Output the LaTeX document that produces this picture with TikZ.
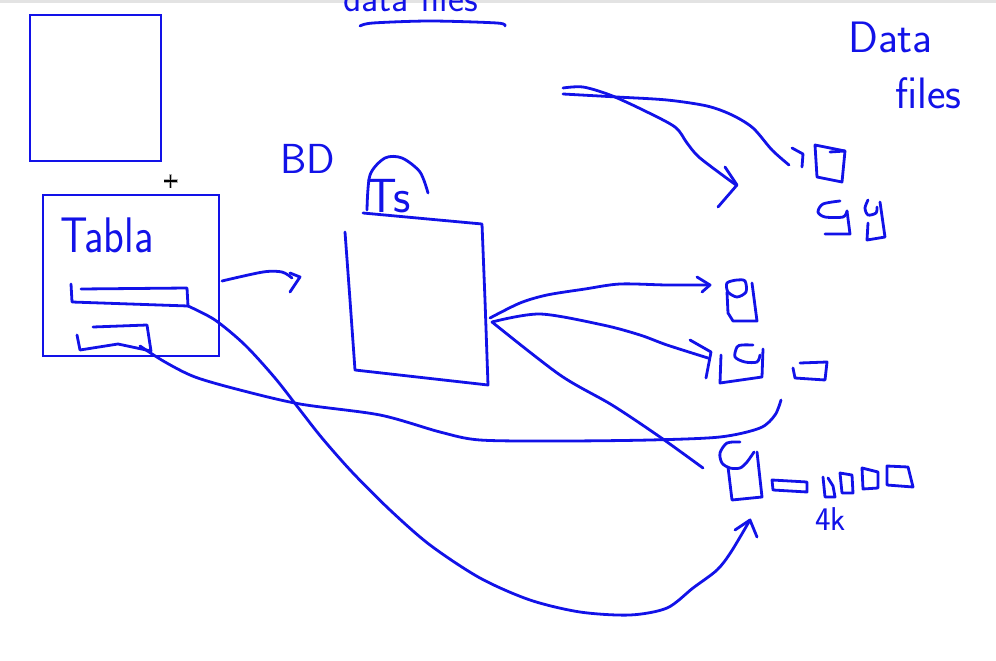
\documentclass[tikz,border=0pt]{standalone}
\usepackage{fontspec}
\definecolor{penblue}{RGB}{18,18,232}
\begin{document}
\begin{tikzpicture}[x=1pt,y=-1pt,
  pen/.style={draw=penblue, line width=2.8pt, line cap=round, line join=round},
  boxline/.style={draw=penblue, line width=2.2pt},
  txt/.style={text=penblue, inner sep=0pt, anchor=base west, font=\sffamily}]
\useasboundingbox (0,0) rectangle (996,661);
\clip (0,0) rectangle (996,661);
\fill[gray!22] (0,0) rectangle (996,3);

% ---- left boxes
\draw[boxline] (30,15) rectangle (161,161);
\draw[boxline] (43,195) rectangle (219,356);
\node[txt, font=\sffamily\fontsize{50}{50}\selectfont, xscale=0.86] (tabla) at (60,252) {Tabla};
\draw[pen] (81,289) -- (187,288) -- (188,306) -- (72,302) -- (71,284);
\draw[pen] (93,327) -- (147,325) -- (151,351) -- (118,344) -- (80,350) -- (77,335);
\coordinate (r1) at (188,306);
\coordinate (r2) at (140,346);

% cursor
\draw[gray!60, line width=3.4pt] (163.5,181) -- (177.5,181) (170.5,174) -- (170.5,188);
\draw[black, line width=1.6pt] (164,181) -- (177,181) (170.5,174.5) -- (170.5,187.5);

% ---- top cut text
\node[txt, font=\sffamily\fontsize{38}{38}\selectfont] (dtop) at (343,12) {data files};
\draw[pen] plot[smooth] coordinates {(360,26) (373,23) (430,21) (497,23) (505,26)};

% ---- data files label
\node[txt, font=\sffamily\fontsize{44}{44}\selectfont] (data) at (848,53) {Data};
\node[txt, font=\sffamily\fontsize{44}{44}\selectfont] (files) at (895,108) {files};

% ---- BD / Ts / big box
\node[txt, font=\sffamily\fontsize{42}{42}\selectfont] (bd) at (280,173) {BD};
\node[txt, font=\sffamily\fontsize{48}{48}\selectfont] (ts) at (366,212) {Ts};
\draw[pen] plot[smooth] coordinates {(367,210) (370,175) (385,158) (402,158) (420,172) (428,193)};
\draw[pen] (345,232) -- (350,300) -- (355,370) -- (488,385) -- (485,300) -- (482,224) -- (363,213);
\coordinate (bx) at (490,318);

% ---- arrow tabla -> box
\draw[pen] plot[smooth] coordinates {(222,281) (263,272) (282,272) (292,278)};
\draw[pen] (290,273) -- (300,277) -- (290,292);

% ---- top arrows
\draw[pen] plot[smooth] coordinates {(563,88) (583,87) (610,95) (643,110) (675,127) (687,143) (700,158) (736,185)};
\draw[pen] (725,167) -- (737,185) -- (718,207);
\draw[pen] plot[smooth] coordinates {(563,94) (617,97) (667,100) (707,106) (732,115) (753,128) (772,150) (789,165)};
\draw[pen] (792,148) -- (803,154) -- (802,167);

% ---- upper right files
\draw[pen] (815,145) -- (845,151) -- (842,182) -- (817,177) -- cycle;
\draw[pen] (830,152) -- (845,151);
\draw[pen] plot[smooth] coordinates {(840,201) (823,204) (818,212) (825,217) (843,217) (847,211)};
\draw[pen] (847,211) -- (850,234) -- (825,234);
\draw[pen] plot[smooth] coordinates {(868,200) (865,208) (868,215) (876,213) (877,207)};
\draw[pen] (880,202) -- (885,237) -- (867,240) -- (868,223);

% ---- arrows from big box
\draw[pen] plot[smooth] coordinates {(bx) (520,303) (547,295) (585,289) (620,284) (667,285) (710,285)};
\draw[pen] (697,277) -- (710,285) -- (702,292);
\draw[pen] plot[smooth] coordinates {(492,322) (540,314) (603,325) (640,335) (667,345) (708,358)};
\draw[pen] (690,340) -- (711,352) -- (706,378);
\draw[pen] plot[smooth] coordinates {(492,322) (560,375) (612,405) (660,437) (703,468)};

% ---- middle files
\draw[pen] plot[smooth cycle] coordinates {(727,283) (737,280) (745,281) (746,292) (737,297) (728,292)};
\draw[pen] (727,292) -- (728,313) -- (733,321) -- (757,321) -- (752,283);
\draw[pen] plot[smooth] coordinates {(753,345) (742,345) (737,347) (735,357) (745,362) (757,362) (760,355)};
\draw[pen] (763,349) -- (762,377) -- (720,383) -- (721,355);
\draw[pen] (793,368) -- (795,378) -- (825,380) -- (827,362) -- (800,363);

% ---- bottom files
\draw[pen] plot[smooth] coordinates {(740,442) (727,443) (720,453) (722,463) (730,468) (740,468) (747,462) (754,452)};
\draw[pen] (757,452) -- (762,497) -- (732,500) -- (728,467);
\draw[pen] (772,480) -- (807,482) -- (807,492) -- (773,490) -- cycle;
\draw[pen] (823,477) -- (825,497) -- (835,497) -- (833,486) -- (828,478);
\draw[pen] (840,473) -- (852,475) -- (853,493) -- (842,493) -- cycle;
\draw[pen] (862,468) -- (878,472) -- (878,488) -- (863,489) -- cycle;
\draw[pen] (887,466) -- (908,467) -- (913,487) -- (887,485) -- cycle;
\node[txt, font=\sffamily\fontsize{33}{33}\selectfont] (fourk) at (815,530) {4k};

% ---- long curves from table rows
\coordinate (c1) at (750,520);
\draw[pen] plot[smooth] coordinates {(r1) (215,320) (245,345) (275,378) (300,410) (322,438) (352,472) (390,510) (430,545) (480,578) (530,600) (580,612) (630,615) (667,608) (693,588) (717,570) (731,552) (c1)};
\draw[pen] (735,530) -- (c1) -- (757,537);
\draw[pen] plot[smooth] coordinates {(r2) (165,362) (195,377) (240,390) (300,404) (380,415) (440,432) (480,440) (560,441) (650,440) (720,437) (760,428) (775,415) (781,400)};
\end{tikzpicture}
\end{document}
